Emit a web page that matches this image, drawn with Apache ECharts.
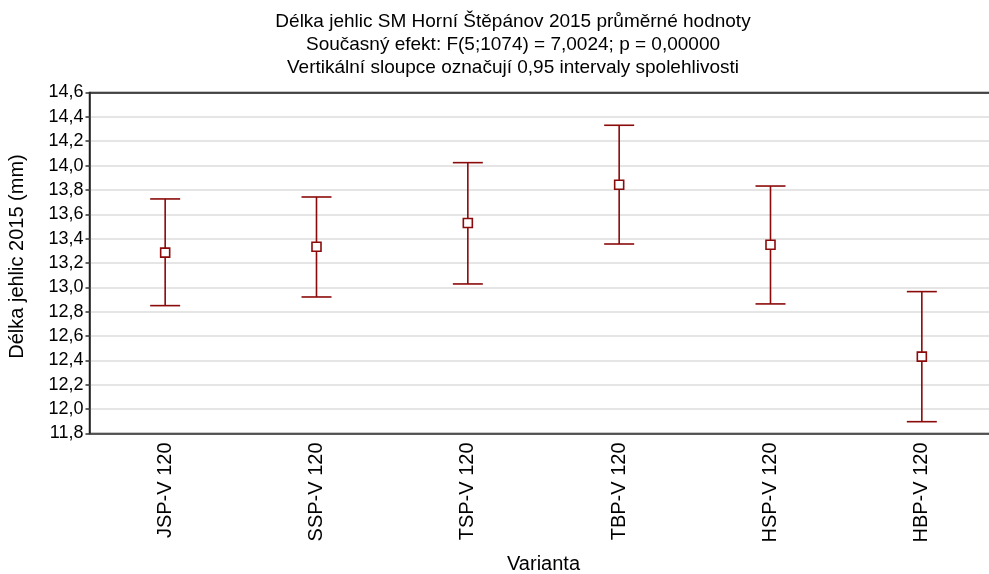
<!DOCTYPE html>
<html>
<head>
<meta charset="utf-8">
<script src="https://cdn.jsdelivr.net/npm/echarts@6/dist/echarts.min.js"></script>
<style>
  html, body { margin: 0; padding: 0; background: #fff; }
  #chart { width: 989px; height: 574px; }
</style>
</head>
<body>
<div id="chart"></div>
<script>
// Varianty a průměrné délky jehlic s 95% intervaly spolehlivosti
const categories = ['JSP-V 120', 'SSP-V 120', 'TSP-V 120', 'TBP-V 120', 'HSP-V 120', 'HBP-V 120'];
const means = [13.285, 13.334, 13.529, 13.843, 13.350, 12.431];
const lower = [12.850, 12.921, 13.028, 13.356, 12.864, 11.897];
const upper = [13.726, 13.742, 14.024, 14.331, 13.832, 12.965];
const yTicks = { min: 11.8, max: 14.6, step: 0.2 };

const COLOR = '#8b0a0a';
const FONT = 'Liberation Sans, Arial, sans-serif';

const chart = echarts.init(document.getElementById('chart'), null, { renderer: 'canvas' });

const errorData = categories.map((c, i) => [i, lower[i], upper[i]]);

const option = {
  animation: false,
  backgroundColor: '#ffffff',
  title: {
    text: 'Délka jehlic SM Horní Štěpánov 2015 průměrné hodnoty\nSoučasný efekt: F(5;1074) = 7,0024; p = 0,00000\nVertikální sloupce označují 0,95 intervaly spolehlivosti',
    left: 508,
    top: 5,
    textAlign: 'center',
    textStyle: {
      fontFamily: FONT,
      fontSize: 19,
      fontWeight: 'normal',
      color: '#000',
      lineHeight: 23
    }
  },
  grid: {
    left: 89.5,
    top: 92.5,
    width: 908,
    height: 341,
    outerBoundsMode: 'none',
    containLabel: false,
    show: true,
    borderColor: '#222',
    borderWidth: 1.5,
    backgroundColor: 'transparent'
  },
  xAxis: [
    {
      type: 'category',
      data: categories,
      position: 'bottom',
      name: 'Varianta',
      nameLocation: 'middle',
      nameGap: 121,
      nameTextStyle: { fontFamily: FONT, fontSize: 20, color: '#000' },
      axisLine: { lineStyle: { color: '#333', width: 1.5 } },
      axisTick: { inside: true, length: 4, alignWithLabel: true, lineStyle: { color: '#333', width: 1.5 } },
      axisLabel: {
        rotate: 90,
        margin: 9,
        fontFamily: FONT,
        fontSize: 20,
        color: '#000'
      },
      splitLine: { show: false }
    },
    {
      type: 'category',
      data: categories,
      position: 'top',
      axisLine: { lineStyle: { color: '#222', width: 1.5 } },
      axisTick: { inside: true, length: 4, alignWithLabel: true, lineStyle: { color: '#333', width: 1.5 } },
      axisLabel: { show: false },
      splitLine: { show: false }
    }
  ],
  yAxis: {
    type: 'value',
    min: yTicks.min,
    max: yTicks.max,
    interval: yTicks.step,
    name: 'Délka jehlic 2015 (mm)',
    nameLocation: 'middle',
    nameGap: 62,
    nameTextStyle: { fontFamily: FONT, fontSize: 20, color: '#000', padding: [0, 0, 0, 13] },
    axisLine: { show: true, lineStyle: { color: '#222', width: 1.5 } },
    axisTick: { show: true, length: 4, lineStyle: { color: '#333', width: 1.5 } },
    axisLabel: {
      margin: 6,
      fontFamily: FONT,
      fontSize: 18,
      color: '#000',
      formatter: v => v.toFixed(1).replace('.', ',')
    },
    splitLine: { show: true, lineStyle: { color: '#dcdcdc', width: 1.5 } }
  },
  series: [
    {
      type: 'custom',
      name: 'CI',
      xAxisIndex: 0,
      data: errorData,
      renderItem: function (params, api) {
        const x = api.value(0);
        const lo = api.coord([x, api.value(1)]);
        const hi = api.coord([x, api.value(2)]);
        const half = 15;
        const style = { stroke: COLOR, lineWidth: 1.6, fill: null };
        return {
          type: 'group',
          children: [
            { type: 'line', shape: { x1: hi[0], y1: hi[1], x2: lo[0], y2: lo[1] }, style: style },
            { type: 'line', shape: { x1: hi[0] - half, y1: hi[1], x2: hi[0] + half, y2: hi[1] }, style: style },
            { type: 'line', shape: { x1: lo[0] - half, y1: lo[1], x2: lo[0] + half, y2: lo[1] }, style: style }
          ]
        };
      },
      z: 2
    },
    {
      type: 'scatter',
      name: 'Průměr',
      xAxisIndex: 0,
      data: means,
      symbol: 'rect',
      symbolSize: 9,
      itemStyle: { color: '#ffffff', borderColor: COLOR, borderWidth: 1.6, opacity: 1 },
      z: 3
    }
  ]
};

chart.setOption(option);
</script>
</body>
</html>
